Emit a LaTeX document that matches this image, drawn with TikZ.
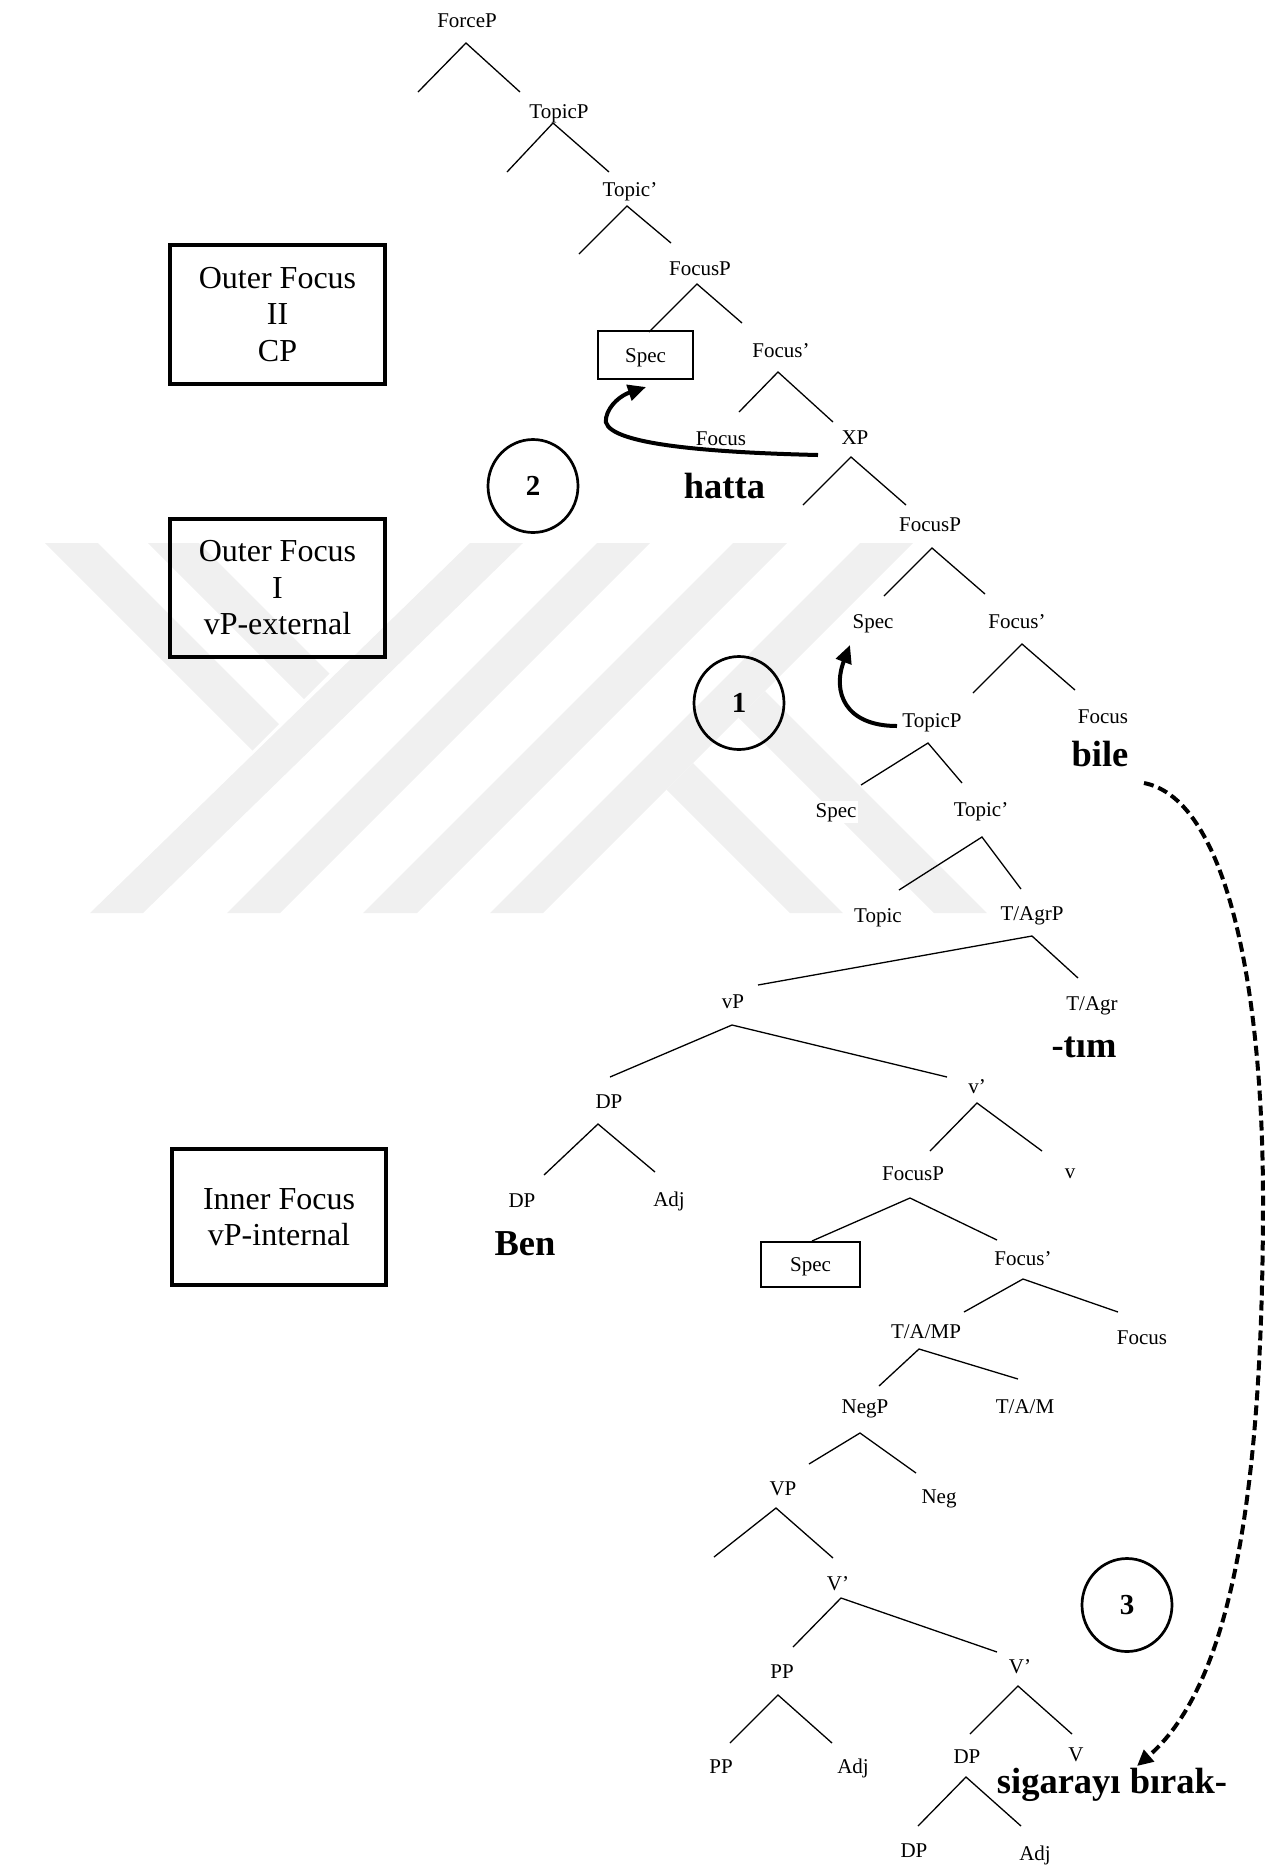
\documentclass[tikz,border=0pt]{standalone}
\usepackage{fontspec}
\setmainfont{Liberation Serif}
\usetikzlibrary{shapes.geometric,arrows.meta}
\begin{document}
\begin{tikzpicture}[x=0.5pt,y=-0.5pt,
  lbl/.style={anchor=base,font=\fontsize{10.5}{12}\selectfont,inner sep=1pt,fill=white},
  bw/.style={anchor=base,font=\fontsize{18.25}{20}\selectfont\bfseries,inner sep=0.5pt},
  br/.style={line width=0.65pt},
  bigbox/.style={draw,line width=2pt,minimum width=107.5pt,minimum height=69.5pt,align=center,inner sep=0pt,font=\fontsize{16}{18.25}\selectfont},
  specbox/.style={draw,line width=0.75pt,inner sep=0pt,text height=7pt,text depth=0pt,font=\fontsize{10.5}{12}\selectfont},
  numcirc/.style={draw,ellipse,line width=1.35pt,minimum width=45pt,minimum height=46.5pt,inner sep=0pt,font=\fontsize{14.5}{16}\selectfont\bfseries},
  mv/.style={line width=2pt,-{Triangle[length=9pt,width=8pt]}},
  dmv/.style={line width=2pt,dash pattern=on 5pt off 2.5pt,-{Triangle[length=8pt,width=7.5pt]}},
  wm/.style={fill=black!6,draw=none}]
\useasboundingbox (0,0) rectangle (1280,1865);

% ---------- watermark ----------
\fill[wm] (90,913) -- (143,913) -- (523,543) -- (470,543) -- cycle;
\fill[wm] (227,913) -- (280,913) -- (650,543) -- (597,543) -- cycle;
\fill[wm] (363,913) -- (417,913) -- (787,543) -- (733,543) -- cycle;
\fill[wm] (490,913) -- (543,913) -- (913,543) -- (860,543) -- cycle;
\fill[wm] (45,543) -- (98,543) -- (279,724) -- (252.5,750.5) -- cycle;
\fill[wm] (148,543) -- (199,543) -- (329.5,673.5) -- (304,699) -- cycle;
\fill[wm] (666.5,789.5) -- (693,763) -- (843,913) -- (790,913) -- cycle;
\fill[wm] (738.5,717.5) -- (765,691) -- (987,913) -- (934,913) -- cycle;

% ---------- side boxes ----------
\node[bigbox] (box1) at (277.5,314.5) {Outer Focus\\II\\CP};
\node[bigbox,minimum height=69pt] (box2) at (277.5,588) {Outer Focus\\I\\vP-external};
\node[bigbox,minimum width=107pt,minimum height=68pt] (box3) at (279,1217) {Inner Focus\\vP-internal};

% ---------- numbered circles ----------
\node[numcirc] (n2) at (533,486) {2};
\node[numcirc] (n1) at (739,703) {1};
\node[numcirc] (n3) at (1127,1605) {3};

% ---------- tree labels ----------
\node[lbl] (forceP) at (467,27) {ForceP};
\node[lbl] (topicPa) at (559,118) {TopicP};
\node[lbl] (topicbara) at (630,196) {Topic’};
\node[lbl] (focusPa) at (700,275) {FocusP};
\node[specbox,minimum width=47.5pt,minimum height=24pt] (spec1) at (645.5,355) {Spec};
\node[lbl] (focusbara) at (781,357) {Focus’};
\node[lbl] (focusa) at (721,445) {Focus};
\node[lbl] (xp) at (855,444) {XP};
\node[bw] (hatta) at (724.5,498) {hatta};
\node[lbl] (focusPb) at (930,531) {FocusP};
\node[lbl] (specb) at (873,628) {Spec};
\node[lbl] (focusbarb) at (1017,628) {Focus’};
\node[lbl] (focusb) at (1103,723) {Focus};
\node[bw] (bile) at (1100,766) {bile};
\node[lbl] (topicPb) at (932,727) {TopicP};
\node[lbl] (specc) at (836,817) {Spec};
\node[lbl] (topicbarb) at (981,816) {Topic’};
\node[lbl] (topic) at (878,922) {Topic};
\node[lbl] (tagrp) at (1032,920) {T/AgrP};
\node[lbl] (tagr) at (1092,1010) {T/Agr};
\node[bw] (tim) at (1084,1057) {-tım};
\node[lbl] (vp) at (733,1008) {vP};
\node[lbl] (vbar) at (977,1093) {v’};
\node[lbl] (dp) at (609,1108) {DP};
\node[lbl] (focusPc) at (913,1180) {FocusP};
\node[lbl] (vhead) at (1070,1178) {v};
\node[lbl] (dpa) at (522,1207) {DP};
\node[lbl] (adja) at (669,1206) {Adj};
\node[bw] (ben) at (525,1255) {Ben};
\node[specbox,minimum width=49.5pt,minimum height=22.5pt] (spec3) at (810.5,1264.5) {Spec};
\node[lbl] (focusbarc) at (1023,1265) {Focus’};
\node[lbl] (tamp) at (926,1338) {T/A/MP};
\node[lbl] (focusc) at (1142,1344) {Focus};
\node[lbl] (negp) at (865,1413) {NegP};
\node[lbl] (tam) at (1025,1413) {T/A/M};
\node[lbl] (VP) at (783,1495) {VP};
\node[lbl] (neg) at (939,1503) {Neg};
\node[lbl] (vbara) at (838,1590) {V’};
\node[lbl] (pp) at (782,1678) {PP};
\node[lbl] (vbarb) at (1020,1673) {V’};
\node[lbl] (ppa) at (721,1773) {PP};
\node[lbl] (adjb) at (853,1773) {Adj};
\node[lbl] (dpb) at (967,1763) {DP};
\node[lbl,inner sep=0pt] (Vh) at (1076,1761) {V};
\node[bw,inner sep=0pt] (sig) at (1112,1793) {sigarayı bırak-};
\node[lbl] (dpc) at (914,1857) {DP};
\node[lbl] (adjc) at (1035,1860) {Adj};

% ---------- branch points ----------
\coordinate (a1) at (466,43);   \coordinate (l1) at (418,92);   \coordinate (r1) at (520,92);
\coordinate (a2) at (553,123);  \coordinate (l2) at (507,172);  \coordinate (r2) at (609,172);
\coordinate (a3) at (627,206);  \coordinate (l3) at (579,254);  \coordinate (r3) at (671,243);
\coordinate (a4) at (697,284);  \coordinate (l4) at (649,332);  \coordinate (r4) at (742,323);
\coordinate (a5) at (778,372);  \coordinate (l5) at (739,412);  \coordinate (r5) at (833,422);
\coordinate (a6) at (851,457);  \coordinate (l6) at (803,505);  \coordinate (r6) at (906,505);
\coordinate (a7) at (932,548);  \coordinate (l7) at (884,596);  \coordinate (r7) at (985,594);
\coordinate (a8) at (1022,644); \coordinate (l8) at (973,693);  \coordinate (r8) at (1075,690);
\coordinate (a9) at (928,743);  \coordinate (l9) at (861,785);  \coordinate (r9) at (962,783);
\coordinate (a10) at (982,837); \coordinate (l10) at (899,890); \coordinate (r10) at (1021,889);
\coordinate (a11) at (1032,936); \coordinate (l11) at (758,985); \coordinate (r11) at (1078,978);
\coordinate (a12) at (732,1025); \coordinate (l12) at (610,1077); \coordinate (r12) at (947,1077);
\coordinate (a13) at (598,1124); \coordinate (l13) at (544,1175); \coordinate (r13) at (655,1172);
\coordinate (a14) at (977,1103); \coordinate (l14) at (930,1151); \coordinate (r14) at (1042,1151);
\coordinate (a15) at (910,1198); \coordinate (l15) at (812,1241); \coordinate (r15) at (997,1240);
\coordinate (a16) at (1023,1279); \coordinate (l16) at (964,1312); \coordinate (r16) at (1118,1312);
\coordinate (a17) at (919,1349); \coordinate (l17) at (879,1386); \coordinate (r17) at (1018,1379);
\coordinate (a18) at (860,1433); \coordinate (l18) at (809,1464); \coordinate (r18) at (916,1473);
\coordinate (a19) at (776,1508); \coordinate (l19) at (714,1557); \coordinate (r19) at (833,1558);
\coordinate (a20) at (841,1598); \coordinate (l20) at (793,1647); \coordinate (r20) at (997,1652);
\coordinate (a21) at (778,1695); \coordinate (l21) at (730,1743); \coordinate (r21) at (832,1743);
\coordinate (a22) at (1018,1686); \coordinate (l22) at (970,1734); \coordinate (r22) at (1072,1734);
\coordinate (a23) at (966,1777); \coordinate (l23) at (918,1826); \coordinate (r23) at (1021,1826);

\foreach \i in {1,...,23} {\draw[br] (l\i) -- (a\i) -- (r\i);}

% ---------- movement arrows ----------
\coordinate (m2s) at (818,455); \coordinate (m2e) at (646,387);
\draw[mv] (m2s) .. controls (690,452) and (600,442) .. (606,418)
              .. controls (609,404) and (622,395) .. (m2e);
\coordinate (m1s) at (897,726); \coordinate (m1e) at (850,645);
\draw[mv] (m1s) .. controls (845,726) and (832,692) .. (m1e);
\coordinate (m3s) at (1144,783); \coordinate (m3e) at (1137,1766);
\draw[dmv] (m3s) .. controls (1230,800) and (1263,1000) .. (1263,1200)
                 .. controls (1263,1520) and (1225,1690) .. (m3e);
\end{tikzpicture}
\end{document}
